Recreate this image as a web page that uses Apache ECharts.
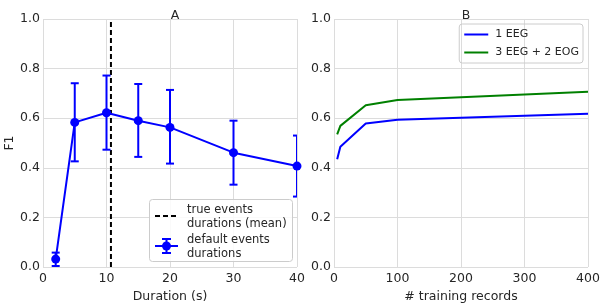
<!DOCTYPE html>
<html><head><meta charset="utf-8">
<script src="https://cdn.jsdelivr.net/npm/echarts@6/dist/echarts.min.js"></script>
<style>html,body{margin:0;padding:0;background:#fff}#c{width:606px;height:303px}</style>
</head><body><div id="c"></div>
<script>
// Panel A data
const durations = [2, 5, 10, 15, 20, 30, 40];
const f1Mean = [0.032, 0.583, 0.622, 0.590, 0.563, 0.461, 0.407];
const f1Low  = [0.004, 0.426, 0.473, 0.444, 0.417, 0.332, 0.284];
const f1High = [0.058, 0.741, 0.772, 0.738, 0.714, 0.590, 0.530];
const trueMeanDuration = 10.7;
// Panel B data
const trainingRecords = [5, 10, 50, 100, 400];
const eeg1 = [0.434, 0.485, 0.579, 0.594, 0.618];
const eeg3eog2 = [0.535, 0.569, 0.652, 0.673, 0.707];
const legendA = ['true events\ndurations (mean)', 'default events\ndurations'];
const legendB = ['1 EEG', '3 EEG + 2 EOG'];
const titles = ['A', 'B'];

const FONT = 'DejaVu Sans';
const TXT = '#262626';
const GRIDC = '#dcdcdc';
const FS = 12.5;
const chart = echarts.init(document.getElementById('c'));

function axisCommon() {
  return {
    axisLine: {show: false}, axisTick: {show: false},
    splitLine: {show: true, lineStyle: {color: GRIDC, width: 1}},
    axisLabel: {color: TXT, fontFamily: FONT, fontSize: FS, margin: 5},
    nameTextStyle: {color: TXT, fontFamily: FONT, fontSize: FS}
  };
}

const errData = durations.map((d, i) => [d, f1Low[i], f1High[i]]);

const option = {
  animation: false,
  title: [
    {text: titles[0], left: 170, top: 4, textAlign: 'center', textStyle: {fontFamily: FONT, fontSize: FS, color: TXT, fontWeight: 'normal'}},
    {text: titles[1], left: 461, top: 4, textAlign: 'center', textStyle: {fontFamily: FONT, fontSize: FS, color: TXT, fontWeight: 'normal'}}
  ],
  grid: [
    {left: 43, top: 19, width: 254, height: 248, outerBoundsMode: 'none', containLabel: false},
    {left: 334, top: 19, width: 254, height: 248, outerBoundsMode: 'none', containLabel: false}
  ],
  xAxis: [
    Object.assign(axisCommon(), {gridIndex: 0, type: 'value', min: 0, max: 40, interval: 10, name: 'Duration (s)', nameLocation: 'middle', nameGap: 17}),
    Object.assign(axisCommon(), {gridIndex: 1, type: 'value', min: 0, max: 400, interval: 100, name: '# training records', nameLocation: 'middle', nameGap: 17})
  ],
  yAxis: [
    Object.assign(axisCommon(), {gridIndex: 0, type: 'value', min: 0, max: 1, interval: 0.2, name: 'F1', nameLocation: 'middle', nameGap: 23,
      axisLabel: {color: TXT, fontFamily: FONT, fontSize: FS, margin: 3, formatter: v => v.toFixed(1)}}),
    Object.assign(axisCommon(), {gridIndex: 1, type: 'value', min: 0, max: 1, interval: 0.2,
      axisLabel: {color: TXT, fontFamily: FONT, fontSize: FS, margin: 3, formatter: v => v.toFixed(1)}})
  ],
  legend: {
    data: legendB, right: 23, top: 24, orient: 'vertical', itemGap: 7,
    itemWidth: 24, itemHeight: 2, icon: 'rect',
    padding: [5, 4, 5, 5],
    borderColor: '#cccccc', borderWidth: 1, borderRadius: 3,
    textStyle: {fontFamily: FONT, fontSize: 11, color: TXT, padding: [0, 0, 0, 2]}
  },
  series: [
    {type: 'line', name: 'trueMean', xAxisIndex: 0, yAxisIndex: 0,
     data: [[trueMeanDuration, 0], [trueMeanDuration, 1]], symbol: 'none',
     lineStyle: {color: '#000', width: 2, type: [5, 3]}, z: 3, silent: true},
    {type: 'custom', name: 'err', xAxisIndex: 0, yAxisIndex: 0, data: errData, clip: true, z: 4,
     renderItem: function (params, api) {
       const x = api.value(0), lo = api.value(1), hi = api.value(2);
       const p1 = api.coord([x, hi]), p2 = api.coord([x, lo]);
       const w = 4;
       const st = {stroke: '#0000ff', lineWidth: 2};
       return {type: 'group', children: [
         {type: 'line', shape: {x1: p1[0], y1: p1[1], x2: p2[0], y2: p2[1]}, style: st},
         {type: 'line', shape: {x1: p1[0] - w, y1: p1[1], x2: p1[0] + w, y2: p1[1]}, style: st},
         {type: 'line', shape: {x1: p2[0] - w, y1: p2[1], x2: p2[0] + w, y2: p2[1]}, style: st}
       ]};
     }},
    {type: 'line', name: 'mean', xAxisIndex: 0, yAxisIndex: 0,
     data: durations.map((d, i) => [d, f1Mean[i]]),
     symbol: 'circle', symbolSize: 9, itemStyle: {color: '#0000ff'},
     lineStyle: {color: '#0000ff', width: 2}, z: 5},
    {type: 'line', name: legendB[0], xAxisIndex: 1, yAxisIndex: 1,
     data: trainingRecords.map((d, i) => [d, eeg1[i]]), symbol: 'none',
     itemStyle: {color: '#0000ff'}, lineStyle: {color: '#0000ff', width: 2}},
    {type: 'line', name: legendB[1], xAxisIndex: 1, yAxisIndex: 1,
     data: trainingRecords.map((d, i) => [d, eeg3eog2[i]]), symbol: 'none',
     itemStyle: {color: '#008000'}, lineStyle: {color: '#008000', width: 2}}
  ],
  graphic: [
    {type: 'rect', left: 149, top: 199, shape: {width: 143, height: 62, r: 3},
     style: {fill: 'rgba(255,255,255,0.85)', stroke: '#cccccc', lineWidth: 1}, z: 10},
    {type: 'line', shape: {x1: 155, y1: 216, x2: 178, y2: 216},
     style: {stroke: '#000', lineWidth: 2, lineDash: [5, 3]}, z: 11},
    {type: 'text', left: 187, top: 203, style: {text: legendA[0], fontFamily: FONT, fontSize: 11.5, fill: TXT, lineHeight: 14}, z: 11},
    {type: 'line', shape: {x1: 155, y1: 246, x2: 178, y2: 246}, style: {stroke: '#0000ff', lineWidth: 2}, z: 11},
    {type: 'line', shape: {x1: 166.5, y1: 239, x2: 166.5, y2: 253}, style: {stroke: '#0000ff', lineWidth: 2}, z: 11},
    {type: 'line', shape: {x1: 162, y1: 239, x2: 171, y2: 239}, style: {stroke: '#0000ff', lineWidth: 2}, z: 11},
    {type: 'line', shape: {x1: 162, y1: 253, x2: 171, y2: 253}, style: {stroke: '#0000ff', lineWidth: 2}, z: 11},
    {type: 'circle', shape: {cx: 166.5, cy: 246, r: 4.5}, style: {fill: '#0000ff'}, z: 11},
    {type: 'text', left: 187, top: 233, style: {text: legendA[1], fontFamily: FONT, fontSize: 11.5, fill: TXT, lineHeight: 14}, z: 11}
  ]
};
chart.setOption(option);
</script></body></html>
